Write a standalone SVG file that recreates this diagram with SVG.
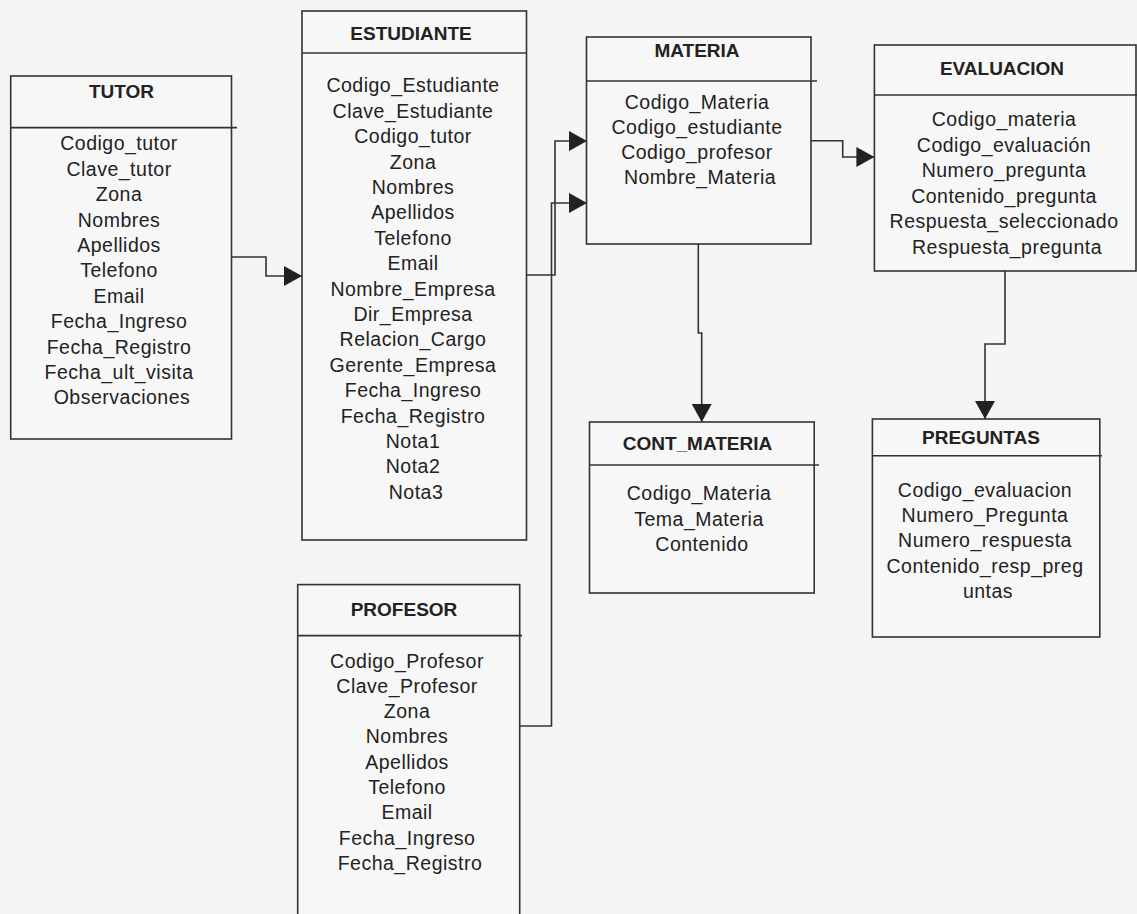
<svg xmlns="http://www.w3.org/2000/svg" width="1137" height="914" viewBox="0 0 1137 914">
<style>
.box{fill:#f7f7f7;stroke:#333;stroke-width:1.6}
.sep{stroke:#333;stroke-width:1.6;fill:none}
.conn{stroke:#333;stroke-width:1.6;fill:none;marker-end:url(#arr)}
.t{font-family:"Liberation Sans",Arial,sans-serif;font-size:19px;font-weight:bold;fill:#222;text-anchor:middle}
.a{font-family:"Liberation Sans",Arial,sans-serif;font-size:19.5px;letter-spacing:0.5px;fill:#222;text-anchor:middle}
</style>
<defs>
<marker id="arr" markerUnits="userSpaceOnUse" markerWidth="19" markerHeight="20" refX="18" refY="10" orient="auto">
<path d="M0,0 L18,10 L0,20 z" fill="#222"/>
</marker>
</defs>
<rect width="1137" height="914" fill="#f5f5f5"/>

<g id="connectors">
<path class="conn" d="M231.5,257 H266 V276 H302"/>
<path class="conn" d="M526,275 H555 V141 H587"/>
<path class="conn" d="M519.5,726 H551.5 V203 H587"/>
<path class="conn" d="M811,140.7 H842.7 V157 H874.4"/>
<path class="conn" d="M698.3,244 V333 H701.7 V422"/>
<path class="conn" d="M1005,271 V344 H985 V419"/>
</g>

<g id="tutor">
<rect class="box" x="10.7" y="76" width="220.8" height="363"/>
<path class="sep" d="M10.7,127.6 H237"/>
<text class="t" x="121.5" y="98">TUTOR</text>
<text class="a">
<tspan x="122" y="150.3">Codigo_tutor</tspan>
<tspan x="122" y="175.7">Clave_tutor</tspan>
<tspan x="122" y="201.1">Zona</tspan>
<tspan x="122" y="226.5">Nombres</tspan>
<tspan x="122" y="251.9">Apellidos</tspan>
<tspan x="122" y="277.3">Telefono</tspan>
<tspan x="122" y="302.7">Email</tspan>
<tspan x="122" y="328.1">Fecha_Ingreso</tspan>
<tspan x="122" y="353.5">Fecha_Registro</tspan>
<tspan x="122" y="378.9">Fecha_ult_visita</tspan>
<tspan x="122" y="404.3">Observaciones</tspan>
</text>
</g>

<g id="estudiante">
<rect class="box" x="302" y="11" width="224.5" height="529"/>
<path class="sep" d="M302,53 H526.5"/>
<text class="t" x="411" y="40">ESTUDIANTE</text>
<text class="a">
<tspan x="416" y="92.3">Codigo_Estudiante</tspan>
<tspan x="416" y="117.7">Clave_Estudiante</tspan>
<tspan x="416" y="143.1">Codigo_tutor</tspan>
<tspan x="416" y="168.5">Zona</tspan>
<tspan x="416" y="193.9">Nombres</tspan>
<tspan x="416" y="219.3">Apellidos</tspan>
<tspan x="416" y="244.7">Telefono</tspan>
<tspan x="416" y="270.1">Email</tspan>
<tspan x="416" y="295.5">Nombre_Empresa</tspan>
<tspan x="416" y="320.9">Dir_Empresa</tspan>
<tspan x="416" y="346.3">Relacion_Cargo</tspan>
<tspan x="416" y="371.7">Gerente_Empresa</tspan>
<tspan x="416" y="397.1">Fecha_Ingreso</tspan>
<tspan x="416" y="422.5">Fecha_Registro</tspan>
<tspan x="416" y="447.9">Nota1</tspan>
<tspan x="416" y="473.3">Nota2</tspan>
<tspan x="416" y="498.7">Nota3</tspan>
</text>
</g>

<g id="materia">
<rect class="box" x="586.5" y="37" width="224.5" height="207"/>
<path class="sep" d="M586.5,81 H817"/>
<text class="t" x="697" y="57">MATERIA</text>
<text class="a">
<tspan x="700" y="108.7">Codigo_Materia</tspan>
<tspan x="700" y="133.7">Codigo_estudiante</tspan>
<tspan x="700" y="158.7">Codigo_profesor</tspan>
<tspan x="700" y="183.7">Nombre_Materia</tspan>
</text>
</g>

<g id="evaluacion">
<rect class="box" x="874.4" y="45" width="261.6" height="226"/>
<path class="sep" d="M874.4,95 H1137"/>
<text class="t" x="1002" y="74.5">EVALUACION</text>
<text class="a">
<tspan x="1007" y="126.3">Codigo_materia</tspan>
<tspan x="1007" y="151.8">Codigo_evaluación</tspan>
<tspan x="1007" y="177.3">Numero_pregunta</tspan>
<tspan x="1007" y="202.8">Contenido_pregunta</tspan>
<tspan x="1007" y="228.3">Respuesta_seleccionado</tspan>
<tspan x="1007" y="253.8">Respuesta_pregunta</tspan>
</text>
</g>

<g id="cont_materia">
<rect class="box" x="589.5" y="422" width="224.7" height="171"/>
<path class="sep" d="M589.5,465 H819"/>
<text class="t" x="697.5" y="449.5">CONT_MATERIA</text>
<text class="a">
<tspan x="702" y="499.7">Codigo_Materia</tspan>
<tspan x="702" y="525.5">Tema_Materia</tspan>
<tspan x="702" y="551.3">Contenido</tspan>
</text>
</g>

<g id="preguntas">
<rect class="box" x="872.4" y="419" width="227.4" height="218"/>
<path class="sep" d="M872.4,455.7 H1102"/>
<text class="t" x="981" y="443.5">PREGUNTAS</text>
<text class="a">
<tspan x="988" y="496.6">Codigo_evaluacion</tspan>
<tspan x="988" y="522">Numero_Pregunta</tspan>
<tspan x="988" y="547.4">Numero_respuesta</tspan>
<tspan x="988" y="572.8">Contenido_resp_preg</tspan>
<tspan x="988" y="598.2">untas</tspan>
</text>
</g>

<g id="profesor">
<rect class="box" x="297.7" y="584.6" width="222" height="340"/>
<path class="sep" d="M297.7,635.6 H522"/>
<text class="t" x="404" y="616">PROFESOR</text>
<text class="a">
<tspan x="410" y="667.5">Codigo_Profesor</tspan>
<tspan x="410" y="692.8">Clave_Profesor</tspan>
<tspan x="410" y="718.1">Zona</tspan>
<tspan x="410" y="743.4">Nombres</tspan>
<tspan x="410" y="768.7">Apellidos</tspan>
<tspan x="410" y="794">Telefono</tspan>
<tspan x="410" y="819.3">Email</tspan>
<tspan x="410" y="844.6">Fecha_Ingreso</tspan>
<tspan x="410" y="869.9">Fecha_Registro</tspan>
</text>
</g>
</svg>
